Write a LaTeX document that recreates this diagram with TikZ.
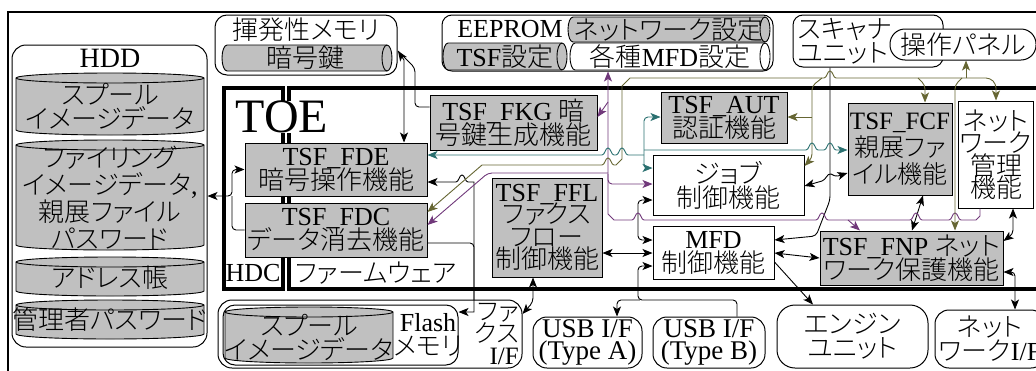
\documentclass[tikz,border=0pt]{standalone}
\usepackage{fontspec}
\setmainfont{Liberation Serif}
\IfFontExistsTF{Noto Sans CJK JP Light}{\newfontfamily\cjk{Noto Sans CJK JP Light}[RawFeature=+palt]}{\newfontfamily\cjk{Noto Sans CJK JP}[RawFeature=+palt]}
\usetikzlibrary{arrows.meta}
\newcommand\jp[1]{{\cjk #1}}
\definecolor{gfill}{RGB}{192,192,192}
\definecolor{pur}{RGB}{112,56,122}
\definecolor{olv}{RGB}{102,102,51}
\definecolor{tea}{RGB}{42,112,112}
\newcommand\vcyl[6]{%
  \filldraw[fill=#6,line width=0.9pt] (#1,#2+5) -- (#1,#4-5) arc[start angle=180,end angle=360,x radius=#5pt,y radius=5pt] -- (#3,#2+5) arc[start angle=0,end angle=180,x radius=#5pt,y radius=5pt] -- cycle;
  \draw[line width=0.9pt] (#1,#2+5) arc[start angle=180,end angle=360,x radius=#5pt,y radius=5pt];}
\newcommand\hcyl[6]{%
  \filldraw[fill=#6,line width=0.9pt] (#1+5,#2) -- (#3-5,#2) arc[start angle=90,end angle=-90,x radius=5pt,y radius=#5pt] -- (#1+5,#4) arc[start angle=270,end angle=90,x radius=5pt,y radius=#5pt] -- cycle;
  \draw[line width=0.9pt] (#3-5,#2) arc[start angle=90,end angle=270,x radius=5pt,y radius=#5pt];}
\tikzset{
  >={Stealth[length=10pt,width=8pt,inset=2.5pt]},
  every node/.style={font=\fontsize{26}{24}\selectfont, inner sep=1pt, align=center},
  box/.style={draw,line width=1pt},
  gbox/.style={box,fill=gfill},
  wbox/.style={box,fill=white},
  rbx/.style={draw,line width=1pt,rounded corners=#1,fill=white},
  ln/.style={line width=0.9pt},
  hop/.style args={#1/#2}{insert path={-- (#1-6,#2) .. controls (#1-3,#2) and (#1-3,#2-7) .. (#1,#2-7) .. controls (#1+3,#2-7) and (#1+3,#2) .. (#1+6,#2)}},
  hopl/.style args={#1/#2}{insert path={-- (#1+6,#2) .. controls (#1+3,#2) and (#1+3,#2-7) .. (#1,#2-7) .. controls (#1-3,#2-7) and (#1-3,#2) .. (#1-6,#2)}},
}
\lineskiplimit=-100pt
\lineskip=0pt
\begin{document}
\begin{tikzpicture}[x=1pt,y=-1pt]
\useasboundingbox (0,0) rectangle (1036,370);
\clip (0,0) rectangle (1036,370);
% frame
\draw[line width=1.2pt] (8,372) -- (8,12) -- (1040,12);
% HDD
\node[rbx=14pt,minimum width=195pt,minimum height=302pt] (HDD) at (109.5,196) {};
\node[font=\fontsize{28}{28}\selectfont] (HDDlbl) at (110,58) {HDD};
\vcyl{16}{73}{204}{135}{94}{gfill}
\vcyl{16}{140}{204}{250}{94}{gfill}
\vcyl{16}{257}{204}{296}{94}{gfill}
\vcyl{16}{300}{204}{339}{94}{gfill}
\node (c1) at (110,106) {\jp{スプール}\\\jp{イメージデータ}};
\node[font=\fontsize{26}{27}\selectfont] (c2) at (110,198) {\jp{ファイリング}\\\jp{イメージデータ},\\\jp{親展ファイル}\\\jp{パスワード}};
\node (c3) at (110,278) {\jp{アドレス帳}};
\node (c4) at (110,320) {\jp{管理者パスワード}};
% volatile memory
\node[rbx=12pt,minimum width=182pt,minimum height=60pt] (vol) at (306,45) {};
\node (vollbl) at (306,30) {\jp{揮発性メモリ}};
\hcyl{222}{45}{392}{71}{13}{gfill}
\node (key) at (305,58) {\jp{暗号鍵}};
\coordinate (kt) at (398,51);
% EEPROM
\node[rbx=10pt,minimum width=331pt,minimum height=56pt] (ee) at (607.5,43) {};
\node (eelbl) at (510,29) {EEPROM};
\hcyl{568}{17}{770}{42}{12.5}{gfill}
\node (netset) at (669,30) {\jp{ネットワーク設定}};
\hcyl{443}{43}{567}{70}{13.5}{gfill}
\node (tsfset) at (505,57) {TSF\jp{設定}};
\hcyl{570}{43}{770}{70}{13.5}{white}
\node (mfdset) at (670,57) {\jp{各種}MFD\jp{設定}};
% scanner / panel
\node[rbx=10pt,minimum width=150pt,minimum height=52pt] (scan) at (868,41) {};
\node[anchor=west,align=left] (scanlbl) at (797,41) {\jp{スキャナ}\\\jp{ユニット}};
\node[rbx=15pt,minimum width=146pt,minimum height=31pt] (panel) at (963,44.5) {\jp{操作パネル}};
% TOE
\draw[line width=4pt] (224,88) rectangle (283,289);
\draw[line width=4pt] (289,88) rectangle (1060,289);
\node[fill=white,inner sep=0pt,font=\fontsize{48}{48}\selectfont] (toe) at (282,117) {TOE};
\node (hdc) at (253,273) {HDC};
\node (fw) at (376,273) {\jp{ファームウェア}};
% functions
\node[gbox,minimum width=182pt,minimum height=53pt] (FDE) at (336,169.5) {TSF\_FDE\\\jp{暗号操作機能}};
\node[gbox,minimum width=182pt,minimum height=54pt] (FDC) at (336,230) {TSF\_FDC\\\jp{データ消去機能}};
\node[gbox,minimum width=167pt,minimum height=55pt] (FKG) at (513.5,122.5) {TSF\_FKG \jp{暗}\\\jp{号鍵生成機能}};
\node[gbox,minimum width=126pt,minimum height=51pt] (AUT) at (724,117.5) {TSF\_AUT\\\jp{認証機能}};
\node[wbox,minimum width=151pt,minimum height=60pt] (job) at (728.5,185) {\jp{ジョブ}\\\jp{制御機能}};
\node[wbox,minimum width=121pt,minimum height=53pt] (MFD) at (713.5,252.5) {MFD\\\jp{制御機能}};
\node[gbox,minimum width=110pt,minimum height=99pt,font=\fontsize{26}{22.5}\selectfont] (FFL) at (547,227.5) {TSF\_FFL\\\jp{ファクス}\\\jp{フロー}\\\jp{制御機能}};
\node[gbox,minimum width=104pt,minimum height=92pt,font=\fontsize{25}{27}\selectfont] (FCF) at (900,149) {TSF\_FCF\\\jp{親展ファ}\\\jp{イル機能}};
\node[wbox,minimum width=68pt,minimum height=107pt,font=\fontsize{26}{22.5}\selectfont] (net) at (996,154.5) {\jp{ネット}\\\jp{ワーク}\\\jp{管理}\\\jp{機能}};
\node[gbox,minimum width=183pt,minimum height=54pt] (FNP) at (911.5,258) {TSF\_FNP \jp{ネット}\\\jp{ワーク保護機能}};
% bottom
\node[rbx=14pt,minimum width=304pt,minimum height=68pt] (fax) at (370,334) {};
\node[rbx=12pt,minimum width=235pt,minimum height=60pt] (flash) at (340.5,335) {};
\vcyl{225}{307}{393}{363}{84}{gfill}
\node (spool) at (309,337) {\jp{スプール}\\\jp{イメージデータ}};
\node (flashlbl) at (428,335) {Flash\\\jp{メモリ}};
\node[anchor=east,align=right,font=\fontsize{25}{22}\selectfont] (faxlbl) at (520,334) {\jp{ファ}\\\jp{クス}\\I/F};
\node[rbx=14pt,minimum width=109pt,minimum height=51pt,font=\fontsize{27}{22}\selectfont] (usbA) at (587.5,342.5) {USB I/F\\(Type A)};
\node[rbx=14pt,minimum width=112pt,minimum height=51pt,font=\fontsize{27}{22}\selectfont] (usbB) at (709,342.5) {USB I/F\\(Type B)};
\node[rbx=18pt,minimum width=151pt,minimum height=63pt] (engine) at (852.5,336.5) {\jp{エンジン}\\\jp{ユニット}};
\node[rbx=14pt,minimum width=110pt,minimum height=58pt] (netIF) at (990,339) {\jp{ネット}\\\jp{ワーク}I/F};
% ---- black connectors
\draw[ln,<->,rounded corners=4pt] (FDE.west) -| (232,196) -- (HDD.east);
\draw[ln,rounded corners=4pt] (FDC.west) -| (232,196);
\draw[ln,<->] (kt) -- (404,60) -- (FDE.north -| 404,0);
\draw[ln,rounded corners=4pt] (kt) -- (415,68) -- (415,107) -- (FKG.west |- 0,107);
\draw[ln,<->] (FDE.east |- 0,182) [hop=462/182] -- (474,182) -- (474,312) -- (flash.east |- 0,312);
\draw[ln,rounded corners=4pt] (FDC.east |- 0,243) -| (474,300);
\draw[ln,->,rounded corners=4pt] (scan.south -| 830,0) -- (830,200) -- (816,236) -- (MFD.east |- 0,240);
\draw[ln,<->] (job.east |- 0,186) -- (822,181) .. controls (826,180) and (827,173) .. (831,174) .. controls (834,175) and (835,177) .. (838,176) -- (FCF.west |- 0,173);
\draw[ln,<->] (FCF.south -| 923,0) -- (FNP.north -| 912,0);
\draw[ln,<->,rounded corners=4pt] (net.south -| 1013,0) -- (1013,234) -- (FNP.east |- 0,241);
\draw[ln,<->] (MFD.east |- 0,253) -- (FNP.west |- 0,258);
\draw[ln,<->,rounded corners=4pt] (FNP.east |- 0,272) -| (netIF.north -| 1015,0);
\draw[ln,->] (MFD.east |- 0,262) -- (engine.north -| 813,0);
\draw[ln,<->,rounded corners=4pt] (job.west |- 0,200) -| (638,240) -- (MFD.west |- 0,240);
\draw[ln,<->] (FFL.east |- 0,253) -- (MFD.west |- 0,253);
\draw[ln,->,rounded corners=4pt] (usbB.north -| 737,0) |- (638,300) |- (MFD.west |- 0,266);
\draw[ln,->,rounded corners=4pt] (640,300) -| (usbA.north -| 617,0);
\draw[ln,<->,rounded corners=4pt] (FFL.south -| 533,0) -- (533,302) -- (fax.east |- 0,314);
% ---- purple
\draw[ln,pur,<-] (ee.south -| 608,0) -- (608,214) -- (614,220) [hop=638/220] [hop=822/220] [hop=916/220] [hop=955/220] -- (976,220) -- (980,216) -- (net.south -| 980,0);
\draw[ln,pur,->] (848,220) -- (FNP.north -| 860,0);
\draw[ln,pur,->,rounded corners=4pt] (608,174) |- (job.west |- 0,184);
\draw[ln,pur,->] (608,102) -- (FKG.east |- 0,117);
\draw[ln,pur,->,rounded corners=4pt] (608,173) -- (488,173) -- (FDC.east |- 0,225);
% ---- olive
\draw[ln,olv,<-] (panel.south -| 966,0) -- (966,78);
\draw[ln,olv,->] (966,78) [hopl=830/78] -- (630,78) -- (622,86) -- (622,159) -- (616,165) [hopl=608/165] -- (482,165) -- (FDC.east |- 0,212);
\draw[ln,olv,->,rounded corners=4pt] (822,78) -- (812,86) -- (812,158) -- (job.east |- 0,166);
\draw[ln,olv,->] (812,117) -- (AUT.east |- 0,117);
\draw[ln,olv,->,rounded corners=4pt] (918,78) -- (925,85) -- (FCF.north -| 925,0);
\draw[ln,olv,->,rounded corners=4pt] (966,78) -- (990,78) -- (996,84) -- (net.north -| 996,0);
\draw[ln,olv,->,rounded corners=4pt] (962,78) -- (955,85) -- (FNP.north -| 955,0);
% ---- teal
\draw[ln,tea,<-] (FDE.east |- 0,155) [hop=608/155] [hop=622/155] -- (644,155);
\draw[ln,tea,<->,rounded corners=4pt] (AUT.west |- 0,117) -| (644,150) |- (job.west |- 0,168);
\draw[ln,tea,->] (644,150) [hop=812/150] [hop=830/150] -- (FCF.west |- 0,150);
\end{tikzpicture}
\end{document}
